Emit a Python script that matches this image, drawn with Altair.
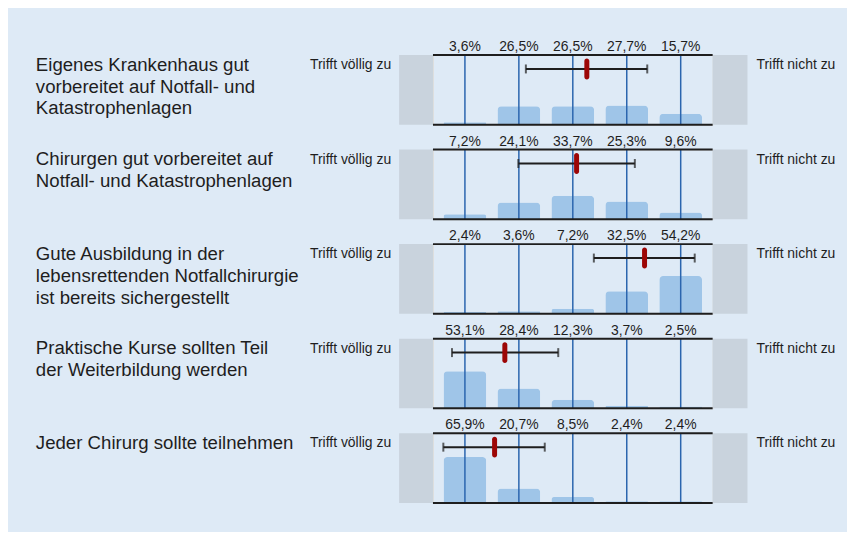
import altair as alt
import pandas as pd

# ---- data ----
titles = [
    "Eigenes Krankenhaus gut\nvorbereitet auf Notfall- und\nKatastrophenlagen",
    "Chirurgen gut vorbereitet auf\nNotfall- und Katastrophenlagen",
    "Gute Ausbildung in der\nlebensrettenden Notfallchirurgie\nist bereits sichergestellt",
    "Praktische Kurse sollten Teil\nder Weiterbildung werden",
    "Jeder Chirurg sollte teilnehmen",
]
categories = [1, 2, 3, 4, 5]
pct_1 = [3.6, 26.5, 26.5, 27.7, 15.7]
pct_2 = [7.2, 24.1, 33.7, 25.3, 9.6]
pct_3 = [2.4, 3.6, 7.2, 32.5, 54.2]
pct_4 = [53.1, 28.4, 12.3, 3.7, 2.5]
pct_5 = [65.9, 20.7, 8.5, 2.4, 2.4]
percentages = [pct_1, pct_2, pct_3, pct_4, pct_5]
means = [3.26, 3.07, 4.33, 1.74, 1.55]
lows = [2.13, 1.99, 3.39, 0.76, 0.60]
highs = [4.38, 4.15, 5.26, 2.73, 2.48]
left_label = "Trifft völlig zu"
right_label = "Trifft nicht zu"

# ---- style ----
BG = "#deeaf6"
GRAY = "#c9d3dd"
BAR = "#9fc5e8"
VLINE = "#2b65ae"
RED = "#9c0606"
INK = "#1e1e1e"
FONT = "Liberation Sans"
W, H = 281, 70

xscale = alt.Scale(domain=[0.5, 5.5], nice=False, zero=False)
yscale = alt.Scale(domain=[0, 100], nice=False, zero=True)


def fmt(v):
    return f"{v:.1f}".replace(".", ",") + "%"


def panel(i):
    bars_df = pd.DataFrame({
        "cat": categories,
        "pct": percentages[i],
        "label": [fmt(v) for v in percentages[i]],
    })
    summ = pd.DataFrame({
        "title": [titles[i]], "mean": [means[i]],
        "lo": [lows[i]], "hi": [highs[i]],
        "left": [left_label], "right": [right_label],
    })
    base = alt.Chart(bars_df)
    one = alt.Chart(summ)

    gray_l = one.mark_rect(color=GRAY).encode(
        x=alt.value(-34), x2=alt.value(0), y=alt.value(0), y2=alt.value(H))
    gray_r = one.mark_rect(color=GRAY).encode(
        x=alt.value(W), x2=alt.value(W + 35), y=alt.value(0), y2=alt.value(H))
    bars = base.mark_bar(size=43, color=BAR, cornerRadiusTopLeft=4,
                         cornerRadiusTopRight=4).encode(
        x=alt.X("cat:Q", scale=xscale, axis=None),
        y=alt.Y("pct:Q", scale=yscale, axis=None),
    )
    vlines = base.mark_rule(color=VLINE, strokeWidth=1.5).encode(
        x=alt.X("cat:Q", scale=xscale, axis=None),
        y=alt.value(0), y2=alt.value(H))
    top_line = one.mark_rule(color=INK, strokeWidth=2).encode(
        x=alt.value(0), x2=alt.value(W), y=alt.value(0))
    bot_line = one.mark_rule(color=INK, strokeWidth=2).encode(
        x=alt.value(0), x2=alt.value(W), y=alt.value(H))
    labels = base.mark_text(fontSize=14, color=INK, baseline="alphabetic",
                            font=FONT).encode(
        x=alt.X("cat:Q", scale=xscale, axis=None),
        y=alt.value(-4), text="label:N")
    err = one.mark_rule(color=INK, strokeWidth=2).encode(
        x=alt.X("lo:Q", scale=xscale, axis=None), x2="hi:Q", y=alt.value(14))
    cap_lo = one.mark_tick(color=INK, size=9, thickness=2, orient="vertical").encode(
        x=alt.X("lo:Q", scale=xscale, axis=None), y=alt.value(14))
    cap_hi = one.mark_tick(color=INK, size=9, thickness=2, orient="vertical").encode(
        x=alt.X("hi:Q", scale=xscale, axis=None), y=alt.value(14))
    mean_mark = one.mark_tick(color=RED, size=21, thickness=5, cornerRadius=2.5,
                              orient="vertical", opacity=1).encode(
        x=alt.X("mean:Q", scale=xscale, axis=None), y=alt.value(14))
    title = one.mark_text(align="left", baseline="alphabetic", fontSize=18.7,
                          lineHeight=22, lineBreak="\n", color=INK, font=FONT).encode(
        x=alt.value(-399), y=alt.value(15.7), text="title:N")
    ltxt = one.mark_text(align="right", baseline="alphabetic", fontSize=14,
                         color=INK, font=FONT).encode(
        x=alt.value(-42), y=alt.value(14), text="left:N")
    rtxt = one.mark_text(align="left", baseline="alphabetic", fontSize=14,
                         color=INK, font=FONT).encode(
        x=alt.value(325), y=alt.value(14), text="right:N")

    return alt.layer(gray_l, gray_r, bars, vlines, top_line, bot_line, labels,
                     err, cap_lo, cap_hi, mean_mark, title, ltxt, rtxt).properties(
        width=W, height=H)


chart = alt.vconcat(*[panel(i) for i in range(5)], spacing=25, bounds="flush").properties(
    padding={"left": 27, "top": 30, "right": 11, "bottom": 26},
    background=BG,
).configure_view(stroke=None).configure(font=FONT)

chart.save("out.html", embed_options={"renderer": "svg", "actions": False})
